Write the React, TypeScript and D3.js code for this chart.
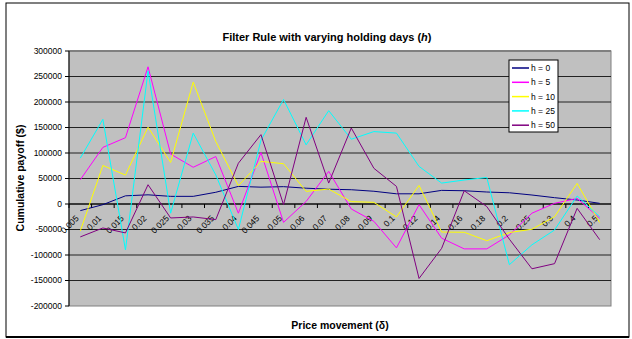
import React from "react";
import * as d3 from "d3";

const categories = ["0.005","0.01","0.015","0.02","0.025","0.03","0.035","0.04","0.045","0.05","0.06","0.07","0.08","0.09","0.1","0.12","0.14","0.16","0.18","0.2","0.25","0.3","0.4","0.5"];
const h0 = [-13000,-1300,16000,18000,15000,15000,23000,34500,33000,34000,31000,29000,28000,25000,20000,20000,26700,26000,23500,22000,17600,12400,7800,1300];
const h5 = [47600,111000,130000,269000,98000,72000,93000,-18000,101000,-36000,5000,64000,-9800,-34000,-86000,-1300,-67000,-88000,-88000,-60600,-18000,1300,11000,-28000];
const h10 = [-53000,75600,56700,150600,81500,239000,122600,35900,83500,79000,24800,29300,4600,3300,-25400,36500,-55000,-55400,-72000,-56000,-49500,-25000,40400,-36500];
const h25 = [90000,166000,-90000,261000,-18000,139000,57000,-50000,125000,205000,116000,183000,127000,142000,139000,73700,41000,47000,52000,-119000,-80000,-51000,15700,-25000];
const h50 = [-64500,-47000,-56700,37800,-27400,-25400,-30600,80000,136000,-1300,170000,41000,149000,70000,34500,-146000,-87000,26000,-5000,-69000,-127000,-117000,-8500,-70000];
const seriesNames = ["h = 0","h = 5","h = 10","h = 25","h = 50"];
const seriesData = [h0, h5, h10, h25, h50];
const seriesColors = ["#000080","#FF00FF","#FFFF00","#00FFFF","#800080"];
const yTicks = [300000,250000,200000,150000,100000,50000,0,-50000,-100000,-150000,-200000];

const W = 632, H = 339;
const L = 69, R = 611, T = 51, B = 306;
const FONT = "Liberation Sans, Arial, sans-serif";

export default function App() {
  const x = d3.scaleBand<string>().domain(categories).range([L, R]);
  const y = d3.scaleLinear().domain([-200000, 300000]).range([B, T]);
  const line = d3.line<number>()
    .x((_, i) => (x(categories[i]) as number) + x.bandwidth() / 2)
    .y((d) => y(d));
  const y0 = y(0);
  return (
    <svg width={W} height={H} style={{ position: "absolute", left: 0, top: 0, background: "#fff" }} fontFamily={FONT}>
      <rect x={6} y={3} width={623} height={334} fill="#fff" stroke="#000" strokeWidth={1} />
      <line x1={6} x2={629} y1={337} y2={337} stroke="#000" strokeWidth={2} />
      <text x={327} y={41} textAnchor="middle" fontSize={11} fontWeight="bold">
        Filter Rule with varying holding days (<tspan fontStyle="italic">h</tspan>)
      </text>
      <rect x={L} y={T} width={R - L} height={B - T} fill="#C0C0C0" stroke="#808080" strokeWidth={1} />
      <line x1={L} x2={R} y1={T} y2={T} stroke="#808080" strokeWidth={2} />
      {yTicks.filter((t) => t !== 300000 && t !== -200000).map((t) => (
        <line key={t} x1={L} x2={R} y1={y(t)} y2={y(t)} stroke="#222" strokeWidth={1} />
      ))}
      <line x1={L} x2={L} y1={T} y2={B} stroke="#000" strokeWidth={1} />
      {yTicks.map((t) => (
        <g key={"yt" + t}>
          <line x1={L - 4} x2={L} y1={y(t)} y2={y(t)} stroke="#000" />
          <text x={L - 7} y={y(t)} dy="0.35em" textAnchor="end" fontSize={8.5}>{t}</text>
        </g>
      ))}
      <line x1={L} x2={R} y1={y0} y2={y0} stroke="#000" strokeWidth={1.2} />
      {categories.map((c, i) => (
        <line key={"xt" + c} x1={L + i * x.step()} x2={L + i * x.step()} y1={y0} y2={y0 + 4} stroke="#000" />
      ))}
      {categories.map((c) => {
        const cx = (x(c) as number) + x.bandwidth() / 2 - 1;
        const cy = y0 + 15;
        return (
          <text key={"xl" + c} x={cx} y={cy} textAnchor="end" fontSize={8.5} transform={`rotate(-45 ${cx} ${cy})`}>{c}</text>
        );
      })}
      {seriesData.map((s, k) => (
        <path key={seriesNames[k]} d={line(s) || ""} fill="none" stroke={seriesColors[k]} strokeWidth={1} />
      ))}
      <rect x={509} y={60} width={49} height={72} fill="#fff" stroke="#000" strokeWidth={1} />
      {seriesNames.map((n, k) => {
        const ly = 68 + k * 14.3;
        return (
          <g key={"lg" + n}>
            <line x1={512} x2={529} y1={ly} y2={ly} stroke={seriesColors[k]} strokeWidth={1.5} />
            <text x={531} y={ly} dy="0.35em" fontSize={8.5}>{n}</text>
          </g>
        );
      })}
      <text x={20} y={178} transform="rotate(-90 20 178)" textAnchor="middle" dy="0.35em" fontSize={10.5} fontWeight="bold">Cumulative payoff ($)</text>
      <text x={340} y={329} textAnchor="middle" fontSize={10.5} fontWeight="bold">Price movement (δ)</text>
    </svg>
  );
}
